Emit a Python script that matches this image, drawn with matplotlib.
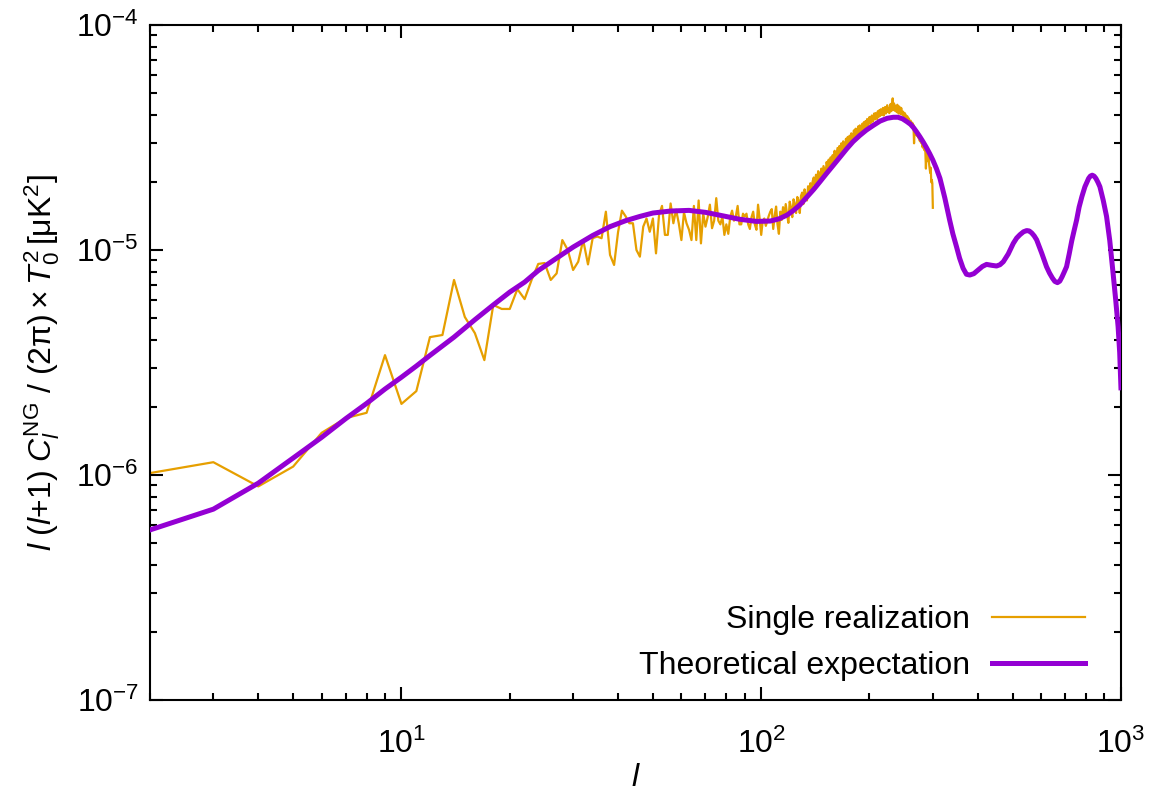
import numpy as np
import matplotlib
matplotlib.use("Agg")
import matplotlib.pyplot as plt
from matplotlib.ticker import LogLocator, FuncFormatter, NullFormatter

plt.rcParams['font.family'] = ['Liberation Sans', 'DejaVu Sans']
plt.rcParams['mathtext.fontset'] = 'custom'
plt.rcParams['mathtext.rm'] = 'Liberation Sans'
plt.rcParams['mathtext.it'] = 'Liberation Sans:italic'
plt.rcParams['mathtext.sf'] = 'Liberation Sans'

# theoretical expectation, values in units of 1e-5 uK^2
theory_l = [2, 3, 4, 5, 6, 7, 8, 9, 10, 11, 12, 14, 16, 18, 20, 22, 24, 27, 30, 34,
            38, 42, 46, 50, 56, 63, 70, 78, 87, 97, 106, 112, 118, 123, 128, 134, 140, 146, 152, 159,
            166, 173, 180, 188, 196, 205, 214, 224, 233, 240, 247, 254, 260, 265, 270, 276, 282, 288, 294, 300,
            307, 314, 319, 324, 329, 334, 341, 349, 356, 364, 372, 380, 390, 401, 412, 423, 437, 451, 461, 471,
            486, 502, 513, 524, 536, 547, 556, 565, 574, 583, 602, 621, 633, 645, 655, 666, 676, 686, 696, 706,
            718, 730, 741, 753, 765, 779, 794, 813, 822, 832, 842, 852, 863, 874, 893, 912, 931, 951, 967, 982,
            992, 1000]
theory_val = [0.057, 0.0705, 0.092, 0.119, 0.147, 0.178, 0.208, 0.241, 0.272, 0.305, 0.34, 0.41, 0.49, 0.57, 0.65, 0.72, 0.81, 0.92, 1.03, 1.16,
              1.27, 1.35, 1.41, 1.46, 1.49, 1.50, 1.47, 1.42, 1.37, 1.34, 1.345, 1.375, 1.43, 1.50, 1.585, 1.72, 1.86, 2.02, 2.19, 2.39,
              2.60, 2.82, 3.03, 3.23, 3.41, 3.58, 3.74, 3.85, 3.89, 3.89, 3.83, 3.72, 3.62, 3.50, 3.36, 3.19, 3.02, 2.85, 2.68, 2.51,
              2.30, 2.08, 1.88, 1.70, 1.52, 1.36, 1.18, 1.035, 0.92, 0.83, 0.78, 0.774, 0.785, 0.815, 0.845, 0.863, 0.855, 0.849, 0.860, 0.887,
              0.96, 1.07, 1.13, 1.17, 1.205, 1.22, 1.215, 1.19, 1.155, 1.11, 0.97, 0.843, 0.79, 0.75, 0.725, 0.716, 0.727, 0.76, 0.80, 0.843,
              0.96, 1.10, 1.22, 1.36, 1.55, 1.73, 1.91, 2.08, 2.13, 2.15, 2.13, 2.08, 2.00, 1.91, 1.66, 1.41, 1.10, 0.787, 0.60, 0.456,
              0.35, 0.244]

# single realization, one value per multipole l = 2 ... 300 (units of 1e-5 uK^2)
single_val = [
    0.102, 0.114, 0.089, 0.109, 0.154, 0.179, 0.189, 0.341,                    # 2-9
    0.207, 0.236, 0.410, 0.419, 0.736, 0.504, 0.427, 0.324, 0.570, 0.547,      # 10-19
    0.547, 0.670, 0.605, 0.736, 0.867, 0.875, 0.736, 0.787, 1.107, 1.000,      # 20-29
    0.815, 0.887, 1.107, 0.863, 1.128, 1.148, 1.128, 1.48, 0.951, 0.858,       # 30-39
    1.20, 1.496, 1.41, 1.315, 1.315, 1.0, 0.934, 1.27, 1.38, 1.205,            # 40-49
    1.38, 0.966, 1.43, 1.57, 1.167, 1.167, 1.61, 1.315, 1.51, 1.315,           # 50-59
    1.107, 1.47, 1.315, 1.23, 1.107, 1.57, 1.107, 1.66, 1.07, 1.45,            # 60-69
    1.27, 1.40, 1.59, 1.25, 1.35, 1.70, 1.35, 1.30, 1.41, 1.167,               # 70-79
    1.30, 1.18, 1.40, 1.496, 1.35, 1.41, 1.57, 1.30, 1.30, 1.45,               # 80-89
    1.41, 1.45, 1.30, 1.24, 1.40, 1.48, 1.30, 1.23, 1.59, 1.38,                # 90-99
    1.167, 1.35, 1.38, 1.28, 1.35, 1.42, 1.48,                                 # 100-106
    1.52, 1.24, 1.42, 1.56, 1.30, 1.18, 1.48, 1.36, 1.55, 1.40,                # 107-116
    1.60, 1.44, 1.32, 1.64, 1.55, 1.40, 1.68, 1.60, 1.46, 1.72,
    1.66, 1.46, 1.74, 1.80, 1.60, 1.86, 1.74, 1.66, 1.92, 1.82,
    1.98, 1.84, 2.02, 2.10, 1.88, 2.16, 1.96, 2.24, 2.06, 2.14,
    2.30, 2.12, 2.36, 2.26, 2.16, 2.46, 2.32, 2.52, 2.34, 2.58,
    2.40, 2.64, 2.46, 2.76, 2.50, 2.66, 2.84, 2.56, 2.90, 2.68,
    2.98, 2.74, 3.04, 2.82, 2.78, 3.12, 2.94, 3.18, 2.96, 3.22,
    3.04, 3.30, 3.08, 3.14, 3.40, 3.16, 3.46, 3.22, 3.32, 3.54,
    3.30, 3.58, 3.36, 3.34, 3.64, 3.42, 3.70, 3.48, 3.74, 3.52,
    3.82, 3.58, 3.70, 3.90, 3.64, 3.74, 3.96, 3.72, 3.84, 4.04,
    3.80, 4.06, 3.86, 3.82, 4.14, 3.90, 4.18, 3.94, 4.22, 3.98,
    4.10, 4.28, 3.96, 4.14, 4.32, 4.04, 4.20, 4.40, 4.10, 4.26,
    4.06, 4.34, 4.46, 4.14, 4.34, 4.72, 4.20, 4.48, 4.16, 4.38,
    4.28, 4.10, 4.42, 4.20, 4.04, 4.34, 4.14, 4.02, 4.28, 4.08,
    3.98, 4.12, 4.02, 3.90, 4.05, 3.88, 3.96, 3.82, 3.92, 3.78,
    3.85, 3.70, 3.62, 3.76, 3.64, 3.55, 3.68, 3.52, 3.60, 2.98,
    3.45, 3.38, 3.26, 3.40, 3.22, 3.30, 3.16, 3.24, 3.12, 3.05,
    3.14, 3.00, 3.08, 2.95, 2.86, 2.98, 2.84, 2.78, 2.90, 2.72,
    2.30, 2.68, 2.55, 2.62, 2.48, 2.56, 2.40, 2.30, 2.20, 2.32,
    2.00, 2.05, 1.98, 1.54,                                                    # 297-300
]
single_l = np.arange(2, 2 + len(single_val))

fig = plt.figure(figsize=(11.53, 7.96), dpi=100)
ax = fig.add_axes([0.1301, 0.1206, 0.9722 - 0.1301, 0.9686 - 0.1206])

ax.plot(single_l, np.array(single_val) * 1e-5, color='#E69F00', lw=1.6,
        label='Single realization', zorder=2)
ax.plot(theory_l, np.array(theory_val) * 1e-5, color='#9400D3', lw=3.6,
        label='Theoretical expectation', zorder=3, solid_joinstyle='round')

ax.set_xscale('log')
ax.set_yscale('log')
ax.set_xlim(2, 1000)
ax.set_ylim(1e-7, 1e-4)

def pow_fmt(v, pos):
    e = int(round(np.log10(v)))
    return r'$\mathregular{10^{%d}}$' % e

ax.xaxis.set_major_locator(LogLocator(base=10, numticks=10))
ax.xaxis.set_minor_locator(LogLocator(base=10, subs=np.arange(2, 10), numticks=20))
ax.yaxis.set_major_locator(LogLocator(base=10, numticks=10))
ax.yaxis.set_minor_locator(LogLocator(base=10, subs=np.arange(2, 10), numticks=20))
ax.xaxis.set_major_formatter(FuncFormatter(pow_fmt))
ax.yaxis.set_major_formatter(FuncFormatter(pow_fmt))
ax.xaxis.set_minor_formatter(NullFormatter())
ax.yaxis.set_minor_formatter(NullFormatter())

ax.tick_params(which='both', direction='in', top=True, right=True, width=1.5,
               labelsize=23)
ax.tick_params(which='major', length=9.5)
ax.tick_params(which='minor', length=5)
ax.tick_params(axis='x', which='major', pad=21)
ax.tick_params(axis='y', which='major', pad=8)
for s in ax.spines.values():
    s.set_linewidth(1.5)

ax.set_xlabel(r'$l$', fontsize=23, labelpad=2)
ax.set_ylabel(r'$l\ (l$+1$)\ C_l^{\mathrm{NG}}\ /\ (2\mathrm{π})\times T_0^{2}\,[\mathrm{μK}^2]$',
              fontsize=23, labelpad=10)

ax.legend(loc='lower right', bbox_to_anchor=(0.963, 0.028), frameon=False,
          markerfirst=False, fontsize=23, handlelength=2.9, handletextpad=0.7,
          labelspacing=0.5, borderpad=0, borderaxespad=0)

fig.savefig('out.png', dpi=100)
